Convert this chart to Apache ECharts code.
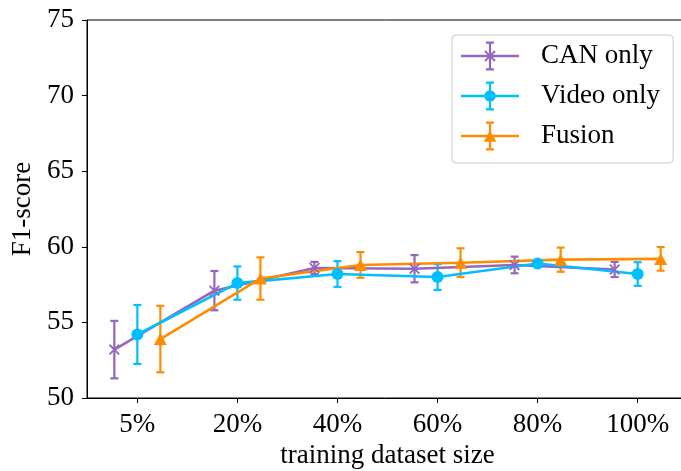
<!DOCTYPE html>
<html>
<head>
<meta charset="utf-8">
<script src="https://cdn.jsdelivr.net/npm/echarts@6/dist/echarts.min.js"></script>
<style>
  html, body { margin: 0; padding: 0; background: #fff; }
  #chart { width: 681px; height: 471px; }
</style>
</head>
<body>
<div id="chart"></div>
<script>
// Training-set size categories and F1 results (mean and one std dev)
const categories = ['5%', '20%', '40%', '60%', '80%', '100%'];

const canMean = [53.2, 57.1, 58.6, 58.55, 58.8, 58.5];
const canErr = [1.9, 1.3, 0.4, 0.9, 0.55, 0.5];

const videoMean = [54.2, 57.6, 58.2, 58.0, 58.9, 58.2];
const videoErr = [1.95, 1.1, 0.85, 0.85, 0.2, 0.78];

const fusionMean = [53.9, 57.9, 58.8, 58.95, 59.15, 59.2];
const fusionErr = [2.2, 1.4, 0.85, 0.95, 0.8, 0.78];

const yTicks = [50, 55, 60, 65, 70, 75];

const FONT = 'Liberation Serif';
const FS = 27;

// --- path helpers for markers and legend keys (all sub-paths clockwise) ---
function rect(x, y, w, h) {
  return `M${x} ${y}L${x + w} ${y}L${x + w} ${y + h}L${x} ${y + h}Z`;
}
function cross(cx, cy, s, t) {
  const d = t / 2 / Math.SQRT2;
  const a = `M${cx - s + d} ${cy - s - d}L${cx + s + d} ${cy + s - d}L${cx + s - d} ${cy + s + d}L${cx - s - d} ${cy - s + d}Z`;
  const b = `M${cx + s + d} ${cy - s + d}L${cx - s + d} ${cy + s + d}L${cx - s - d} ${cy + s - d}L${cx + s - d} ${cy - s - d}Z`;
  return a + b;
}
function disc(cx, cy, r) {
  return `M${cx - r} ${cy}A${r} ${r} 0 1 1 ${cx + r} ${cy}A${r} ${r} 0 1 1 ${cx - r} ${cy}Z`;
}
function tri(cx, cy, w, h) {
  return `M${cx} ${cy - h / 2}L${cx + w / 2} ${cy + h / 2}L${cx - w / 2} ${cy + h / 2}Z`;
}

// legend key: line + error bar + marker
const KW = 58, KH = 29, KCX = KW / 2, KCY = KH / 2;
const keyBase = rect(0, KCY - 1.25, KW, 2.5) + rect(KCX - 1.1, 0, 2.2, KH) +
  rect(KCX - 4, 0, 8, 2.2) + rect(KCX - 4, KH - 2.2, 8, 2.2);
const keyCan = 'path://' + keyBase + cross(KCX, KCY, 5, 1.9);
const keyVideo = 'path://' + keyBase + disc(KCX, KCY, 5.8);
const keyFusion = 'path://' + keyBase + tri(KCX, KCY, 12.5, 11.5);

const xMarker = 'path://' + cross(5, 5, 5, 1.9);

const COLORS = { can: '#9467bd', video: '#00bfff', fusion: '#ff8c00' };
const OFFSET = 0.23;

function errData(mean, err, off) {
  return mean.map((m, i) => [i + off, m - err[i], m + err[i]]);
}
function lineData(mean, off) {
  return mean.map((m, i) => [i + off, m]);
}

function errSeries(name, color, data) {
  return {
    type: 'custom',
    name: name,
    color: color,
    itemStyle: { color: color },
    data: data,
    encode: { x: 0, y: [1, 2] },
    renderItem: function (params, api) {
      const x = api.value(0);
      const lo = api.coord([x, api.value(1)]);
      const hi = api.coord([x, api.value(2)]);
      const cap = 4;
      const style = { stroke: color, lineWidth: 2.2, fill: null };
      return {
        type: 'group',
        children: [
          { type: 'line', shape: { x1: lo[0], y1: lo[1], x2: hi[0], y2: hi[1] }, style: style },
          { type: 'line', shape: { x1: lo[0] - cap, y1: lo[1], x2: lo[0] + cap, y2: lo[1] }, style: style },
          { type: 'line', shape: { x1: hi[0] - cap, y1: hi[1], x2: hi[0] + cap, y2: hi[1] }, style: style }
        ]
      };
    }
  };
}

function lineSeries(name, color, data, symbol, size) {
  return {
    type: 'line',
    name: name,
    color: color,
    data: data,
    symbol: symbol,
    symbolSize: size,
    showSymbol: true,
    lineStyle: { color: color, width: 2.6 },
    itemStyle: { color: color, borderWidth: 0 },
    emphasis: { disabled: true }
  };
}

const chart = echarts.init(document.getElementById('chart'), null, { renderer: 'canvas' });

chart.setOption({
  animation: false,
  backgroundColor: '#fff',
  textStyle: { fontFamily: FONT, color: '#000' },
  grid: {
    left: 87, right: -7, top: 20, bottom: 73,
    outerBoundsMode: 'none',
    containLabel: false,
    show: true, borderColor: '#000', borderWidth: 1, backgroundColor: 'transparent'
  },
  legend: {
    orient: 'vertical',
    left: 452, top: 35,
    padding: [6, 13, 12, 9],
    itemGap: 10,
    itemWidth: KW, itemHeight: KH,
    backgroundColor: 'rgba(255,255,255,0.8)',
    borderColor: '#cccccc', borderWidth: 1, borderRadius: 4,
    itemStyle: { borderWidth: 0 },
    textStyle: { fontFamily: FONT, fontSize: FS, color: '#000', lineHeight: 30, padding: [0, 0, 0, 17] },
    selectedMode: false,
    data: [
      { name: 'CAN only', icon: keyCan, itemStyle: { color: COLORS.can, borderWidth: 0 } },
      { name: 'Video only', icon: keyVideo, itemStyle: { color: COLORS.video, borderWidth: 0 } },
      { name: 'Fusion', icon: keyFusion, itemStyle: { color: COLORS.fusion, borderWidth: 0 } }
    ]
  },
  xAxis: {
    type: 'value',
    min: -0.503, max: 5.503,
    name: 'training dataset size',
    nameLocation: 'middle',
    nameGap: 42,
    nameTextStyle: { fontFamily: FONT, fontSize: FS, color: '#000' },
    axisLine: { show: true, onZero: false, lineStyle: { color: '#000', width: 1 } },
    axisTick: { show: true, inside: false, length: 5, lineStyle: { color: '#000', width: 1 }, customValues: [0, 1, 2, 3, 4, 5] },
    axisLabel: {
      fontFamily: FONT, fontSize: FS, color: '#000', margin: 13,
      customValues: [0, 1, 2, 3, 4, 5],
      formatter: function (v) { return categories[Math.round(v)]; }
    },
    splitLine: { show: false }
  },
  yAxis: {
    type: 'value',
    min: yTicks[0], max: yTicks[yTicks.length - 1], interval: 5,
    name: 'F1-score',
    nameLocation: 'middle',
    nameGap: 37,
    nameTextStyle: { fontFamily: FONT, fontSize: FS, color: '#000' },
    axisLine: { show: true, onZero: false, lineStyle: { color: '#000', width: 1 } },
    axisTick: { show: true, inside: false, length: 5, lineStyle: { color: '#000', width: 1 } },
    axisLabel: { fontFamily: FONT, fontSize: FS, color: '#000', margin: 13 },
    splitLine: { show: false }
  },
  series: [
    errSeries('CAN only', COLORS.can, errData(canMean, canErr, -OFFSET)),
    errSeries('Video only', COLORS.video, errData(videoMean, videoErr, 0)),
    errSeries('Fusion', COLORS.fusion, errData(fusionMean, fusionErr, OFFSET)),
    lineSeries('CAN only', COLORS.can, lineData(canMean, -OFFSET), xMarker, 11),
    lineSeries('Video only', COLORS.video, lineData(videoMean, 0), 'circle', 12),
    lineSeries('Fusion', COLORS.fusion, lineData(fusionMean, OFFSET), 'triangle', [13, 12])
  ]
});
</script>
</body>
</html>
